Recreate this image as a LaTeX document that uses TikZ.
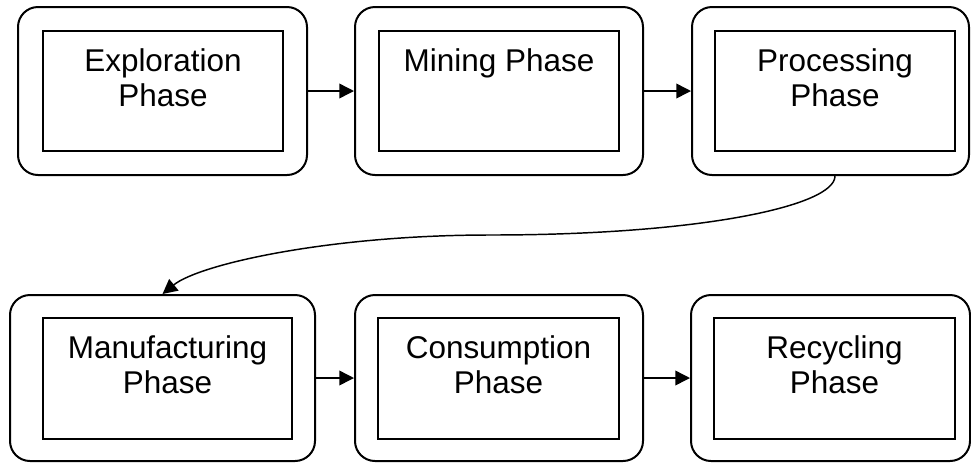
\documentclass[tikz,border=0pt]{standalone}
\usepackage{fontspec}
\setmainfont{Liberation Sans}
\usetikzlibrary{arrows.meta,calc}
\tikzset{
  outerbox/.style={draw=black, line width=1.5pt, rounded corners=15pt, fill=white, inner sep=0pt},
  innerbox/.style={draw=black, line width=1.5pt, inner sep=0pt, minimum width=180pt, minimum height=90pt},
  phasetext/.style={inner sep=0pt, align=center, anchor=north, font=\fontsize{23.6}{26.3}\selectfont},
  arr/.style={draw=black, line width=1.1pt, -{Triangle[length=11pt,width=11pt]}}
}
\begin{document}
\begin{tikzpicture}[x=0.75pt, y=-0.75pt]
\useasboundingbox (0,0) rectangle (971,462);
% top row
\node[outerbox, minimum width=216.75pt, minimum height=126pt] (o1) at (162.5,91) {};
\node[innerbox] (i1) at (163,91) {};
\node[phasetext] (t1) at ([yshift=-13.5pt]i1.north) {Exploration\\Phase};
\node[outerbox, minimum width=216pt, minimum height=126pt] (o2) at (499,91) {};
\node[innerbox] (i2) at (499,91) {};
\node[phasetext] (t2) at ([yshift=-13.5pt]i2.north) {Mining Phase};
\node[outerbox, minimum width=207.75pt, minimum height=126pt] (o3) at (830.5,91) {};
\node[innerbox] (i3) at (835,91) {};
\node[phasetext] (t3) at ([yshift=-13.5pt]i3.north) {Processing\\Phase};
% bottom row
\node[outerbox, minimum width=228.75pt, minimum height=124.5pt] (o4) at (162.5,378) {};
\node[innerbox, minimum width=186.75pt, minimum height=90.75pt] (i4) at (167.5,378.5) {};
\node[phasetext] (t4) at ([yshift=-13.5pt]i4.north) {Manufacturing\\Phase};
\node[outerbox, minimum width=216pt, minimum height=124.5pt] (o5) at (499,378) {};
\node[innerbox, minimum width=180.75pt, minimum height=90.75pt] (i5) at (498.5,378.5) {};
\node[phasetext] (t5) at ([yshift=-13.5pt]i5.north) {Consumption\\Phase};
\node[outerbox, minimum width=209.25pt, minimum height=124.5pt] (o6) at (830.5,378) {};
\node[innerbox, minimum width=180.75pt, minimum height=90.75pt] (i6) at (834.5,378.5) {};
\node[phasetext] (t6) at ([yshift=-13.5pt]i6.north) {Recycling\\Phase};
% connectors
\draw[arr] (o1.east) -- (o2.west);
\draw[arr] (o2.east) -- (o3.west);
\draw[arr] (o4.east) -- (o5.west);
\draw[arr] (o5.east) -- (o6.west);
\coordinate (mid) at (490,235);
\draw[arr] (i3.center |- o3.south) .. controls +(0,30) and +(210,0) .. (mid)
  .. controls +(-160,0) and +(37,-30) .. (o4.north);
\end{tikzpicture}
\end{document}
